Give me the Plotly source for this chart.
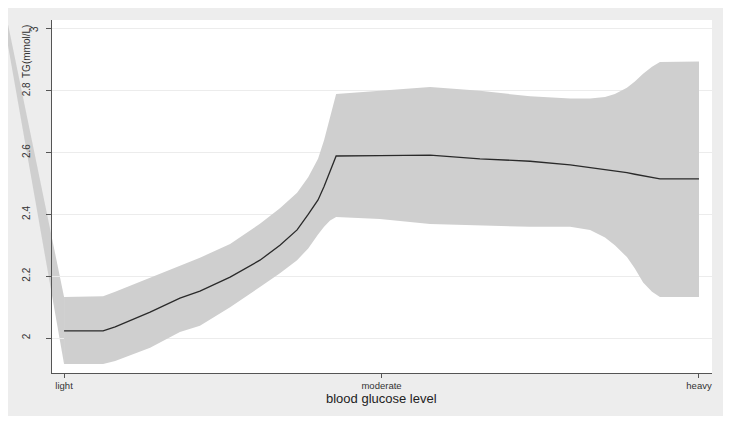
import plotly.graph_objects as go

# ---- data ----
level = [0.0, 0.123, 0.161, 0.271, 0.365, 0.428, 0.523, 0.617, 0.680, 0.734, 0.769,
         0.800, 0.819, 0.838, 0.857, 0.995, 1.153, 1.310, 1.468, 1.594, 1.657, 1.704,
         1.735, 1.773, 1.798, 1.824, 1.852, 1.877, 1.940, 2.0]
fit = [2.023, 2.023, 2.036, 2.084, 2.129, 2.152, 2.197, 2.252, 2.300, 2.350, 2.400,
       2.447, 2.490, 2.540, 2.589, 2.590, 2.592, 2.580, 2.572, 2.560, 2.552, 2.546,
       2.541, 2.535, 2.530, 2.525, 2.518, 2.515, 2.515, 2.515]
upper = [2.133, 2.135, 2.150, 2.195, 2.236, 2.260, 2.304, 2.370, 2.420, 2.470, 2.520,
         2.580, 2.640, 2.720, 2.790, 2.800, 2.812, 2.800, 2.782, 2.775, 2.775, 2.780,
         2.790, 2.810, 2.830, 2.855, 2.878, 2.893, 2.895, 2.895]
lower = [1.916, 1.916, 1.926, 1.969, 2.020, 2.040, 2.100, 2.165, 2.210, 2.252, 2.290,
         2.335, 2.360, 2.380, 2.392, 2.385, 2.369, 2.364, 2.360, 2.360, 2.350, 2.325,
         2.300, 2.262, 2.225, 2.180, 2.150, 2.133, 2.133, 2.133]

x_tick_vals = [0, 1, 2]
x_tick_text = ["light", "moderate", "heavy"]
y_tick_vals = [2, 2.2, 2.4, 2.6, 2.8, 3]
y_tick_text = ["2", "2.2", "2.4", "2.6", "2.8", "3"]

# ---- layout geometry (page has an 8px body margin) ----
OX, OY = 8, 8
W, H = 731 - OX, 422 - OY
ml, mr, mt, mb = 52 - OX, 19, 20 - OY, 49
pw, ph = W - ml - mr, H - mt - mb
xr = [-0.038, 2.041]
yr = [1.887, 3.029]

def px_x(px):
    return (px - OX - ml) / pw

def px_y(py):
    return 1 - (py - OY - mt) / ph

def dx(v):
    return (v - xr[0]) / (xr[1] - xr[0])

def dy(v):
    return (v - yr[0]) / (yr[1] - yr[0])

band = "#cfcfcf"
fig = go.Figure()
fig.add_trace(go.Scatter(
    x=level + level[::-1], y=upper + lower[::-1], fill="toself",
    fillcolor=band, line=dict(width=0), mode="lines",
    hoverinfo="skip", showlegend=False))
fig.add_trace(go.Scatter(
    x=level, y=fit, mode="lines", line=dict(color="#2a2a2a", width=1.3),
    showlegend=False))

# stray wedge of the band polygon reaching to the image corner
wedge = "M {a},{t} L {b},{t} L {ux},{uy} L {lx},{ly} Z".format(
    a=px_x(0), b=px_x(3), t=px_y(0),
    ux=dx(level[0]), uy=dy(upper[0]), lx=dx(level[0]), ly=dy(lower[0]))

shapes = [
    dict(type="rect", xref="paper", yref="paper", x0=px_x(0), x1=px_x(727),
         y0=px_y(416), y1=px_y(0), fillcolor="#ededed", line=dict(width=0), layer="below"),
    dict(type="rect", xref="paper", yref="paper", x0=0, x1=1, y0=0, y1=1,
         fillcolor="white", line=dict(width=0), layer="below"),
    dict(type="path", xref="paper", yref="paper", path=wedge,
         fillcolor=band, line=dict(width=0), layer="below"),
]

fig.update_layout(
    width=W, height=H, margin=dict(l=ml, r=mr, t=mt, b=mb),
    paper_bgcolor="white", plot_bgcolor="rgba(0,0,0,0)",
    font=dict(family="Liberation Sans, Arial, sans-serif", color="#333333"),
    shapes=shapes, showlegend=False,
    xaxis=dict(range=xr, tickvals=x_tick_vals, ticktext=x_tick_text,
               showgrid=False, zeroline=False, showline=True, linecolor="#555555",
               linewidth=1, ticks="outside", ticklen=4, tickcolor="#555555",
               tickfont=dict(size=9.5, color="#333333")),
    yaxis=dict(range=yr, tickvals=y_tick_vals,
               ticktext=y_tick_text[:-1] + [""],
               showgrid=True, gridcolor="#ececec", gridwidth=1, zeroline=False,
               showline=True, linecolor="#555555", linewidth=1, ticks="outside",
               ticklen=5, tickcolor="#555555", tickangle=-90, ticklabelstandoff=12,
               tickfont=dict(size=10, color="#333333")),
    annotations=[
        dict(text="blood glucose level", xref="paper", yref="paper",
             x=px_x(381), y=px_y(398), xanchor="center", yanchor="middle",
             showarrow=False, font=dict(size=13, color="#222222")),
        dict(text="TG(mmol/L)", xref="paper", yref="paper",
             x=px_x(26), y=px_y(52), xanchor="center", yanchor="middle",
             textangle=-90, showarrow=False, font=dict(size=10, color="#333333")),
        dict(text=y_tick_text[-1], xref="paper", yref="y",
             x=px_x(35), y=y_tick_vals[-1], xanchor="center", yanchor="middle",
             textangle=-90, showarrow=False, font=dict(size=10, color="#333333")),
    ],
)

fig.write_html("out.html")
